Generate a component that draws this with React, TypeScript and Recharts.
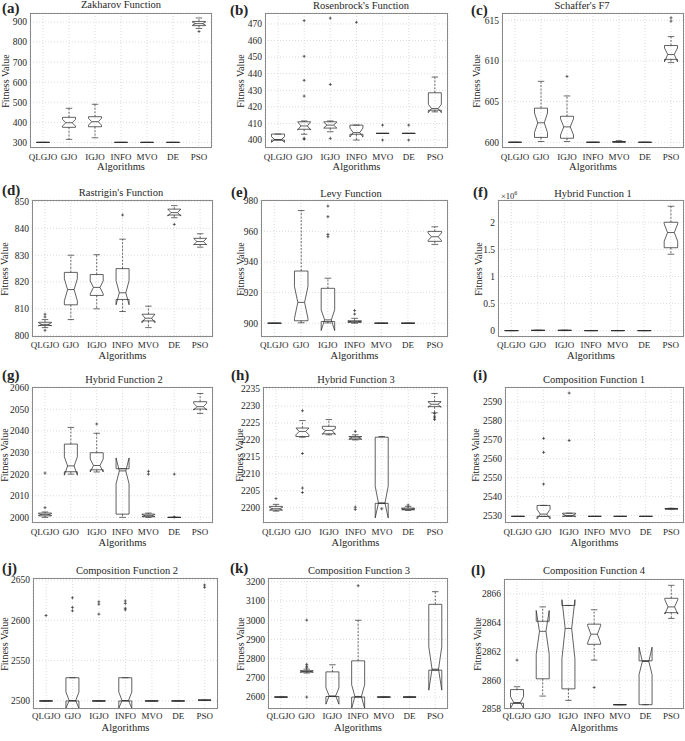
import React from 'react';
import { ComposedChart, Bar, XAxis, YAxis, CartesianGrid } from 'recharts';

const ALGORITHMS = ['QLGJO', 'GJO', 'IGJO', 'INFO', 'MVO', 'DE', 'PSO'];

// one row per algorithm: [whisker low, q1, median, q3, whisker high, notch low, notch high]
const zakharovBoxes = [
  [300, 300, 300, 300, 300, 300, 300],
  [315, 375, 398, 425, 470, 381, 415],
  [323, 378, 403, 428, 490, 386, 420],
  [300, 300, 300, 300, 300, 300, 300],
  [300, 300, 300, 300, 300, 300, 300],
  [300, 300, 300, 300, 300, 300, 300],
  [868, 882, 892, 903, 920, 885, 899],
];
const zakharovOutliers = [[], [], [], [], [], [], [853]];
const zakharovTicks = [300, 400, 500, 600, 700, 800, 900];

const rosenbrockBoxes = [
  [400, 400, 400.3, 403.6, 403.6, 398.6, 402],
  [403.5, 406.5, 408.5, 411, 411.5, 406, 411],
  [405, 407.2, 409, 411, 411.5, 407.3, 410.7],
  [400, 403.5, 404.5, 409, 409, 401.8, 407.2],
  [404, 404, 404, 404, 404, 404, 404],
  [404, 404, 404, 404, 404, 404, 404],
  [417, 418, 419, 428.5, 438, 416.5, 421.5],
];
const rosenbrockOutliers = [[], [400.5, 401, 426.5, 436, 450.5, 472], [401, 433.5, 473.5], [471], [400, 409], [400, 409], []];
const rosenbrockTicks = [400, 410, 420, 430, 440, 450, 460, 470];

const schafferBoxes = [
  [600, 600, 600, 600, 600, 600, 600],
  [600.1, 600.6, 602.4, 604.2, 607.5, 601.2, 603.6],
  [600.1, 600.5, 601.9, 603.2, 605.7, 600.9, 602.9],
  [600, 600, 600, 600, 600, 600, 600],
  [600, 600.02, 600.05, 600.1, 600.2, 600.02, 600.08],
  [600, 600, 600, 600, 600, 600, 600],
  [609.8, 610.2, 610.8, 611.9, 613, 609.9, 611.6],
];
const schafferOutliers = [[], [], [608.1], [], [], [], [614.9, 615.3]];
const schafferTicks = [600, 605, 610, 615];

const rastriginBoxes = [
  [803, 803.8, 804.2, 805, 806, 803.6, 804.8],
  [806, 811.5, 817.2, 823.6, 830, 813, 821.2],
  [810, 815, 818, 822.8, 830.2, 815.6, 820.4],
  [809, 813.5, 816, 825, 836, 811.5, 820.5],
  [803, 805.5, 806.5, 808, 811, 804.8, 808],
  [844, 845, 845.9, 847.2, 848.5, 844.6, 847.2],
  [833, 834, 835.1, 836.3, 838, 833.9, 836.3],
];
const rastriginOutliers = [[802, 807, 808], [], [], [845], [], [841.5], []];
const rastriginTicks = [800, 810, 820, 830, 840, 850];

const levyBoxes = [
  [900, 900, 900, 900, 900, 900, 900],
  [900.3, 901.6, 913.6, 934.1, 973.6, 903.2, 924],
  [900.2, 901.1, 902.2, 922.8, 929.4, 895.2, 908.8],
  [900, 900.6, 901, 901.6, 903.2, 900.7, 901.3],
  [900, 900, 900, 900, 900, 900, 900],
  [900, 900, 900, 900, 900, 900, 900],
  [951.5, 953.5, 956.5, 960, 963, 954, 959],
];
const levyOutliers = [[], [], [956.5, 958, 969.6, 976.5], [906, 908.3], [], [], []];
const levyTicks = [900, 920, 940, 960, 980];

const hybrid1Boxes = [
  [1800, 1900, 1950, 2000, 2100, 1900, 2000],
  [2000, 3000, 6000, 9000, 12000, 4000, 8000],
  [2000, 3000, 6000, 9000, 12000, 4000, 8000],
  [1800, 1900, 1950, 2000, 2100, 1900, 2000],
  [1800, 1900, 1950, 2000, 2100, 1900, 2000],
  [1800, 1900, 1950, 2000, 2100, 1900, 2000],
  [1410000, 1530000, 1810000, 2000000, 2295000, 1650000, 1970000],
];
const hybrid1Outliers = [[], [], [], [], [], [], []];
const hybrid1Ticks = [0, 500000, 1000000, 1500000, 2000000];

const hybrid2Boxes = [
  [2000, 2000.7, 2001.3, 2002, 2002.5, 2000.9, 2001.7],
  [2020, 2021.1, 2023.8, 2033.9, 2041.6, 2019.5, 2028],
  [2021, 2022, 2024, 2029.9, 2038.9, 2021, 2027],
  [2000, 2001.5, 2021.5, 2022.5, 2022.5, 2015.5, 2027.5],
  [2000, 2000.3, 2000.8, 2001.5, 2002, 2000.3, 2001.3],
  [2000, 2000, 2000, 2000, 2000, 2000, 2000],
  [2048.1, 2050.1, 2051.2, 2053.5, 2057.3, 2049.6, 2052.8],
];
const hybrid2Outliers = [[2004.5, 2020.5], [], [2043.2], [], [2020, 2021.3], [2000.2, 2020], []];
const hybrid2Ticks = [2000, 2010, 2020, 2030, 2040, 2050, 2060];

const hybrid3Boxes = [
  [2199, 2199.3, 2199.7, 2200.4, 2201, 2199.3, 2200.1],
  [2220.8, 2221, 2222.5, 2223.5, 2225.7, 2221.5, 2223.5],
  [2221.5, 2221.8, 2222.8, 2224, 2226, 2221.6, 2223.3],
  [2220, 2220.2, 2220.6, 2221, 2221.5, 2220.2, 2221],
  [2201.3, 2201.3, 2201.4, 2220.8, 2221, 2197, 2206.3],
  [2199.2, 2199.4, 2199.6, 2199.9, 2200.4, 2199.4, 2199.8],
  [2228, 2229.8, 2230.5, 2231.3, 2233.7, 2229.6, 2231.2],
];
const hybrid3Outliers = [[2202.7], [2204.5, 2205.8, 2216, 2228.6], [], [2199.5, 2200.2, 2222.5], [2199.7], [2200.8], [2226, 2226.5, 2227, 2227.8]];
const hybrid3Ticks = [2200, 2205, 2210, 2215, 2220, 2225, 2230, 2235];

const comp1Boxes = [
  [2529.5, 2529.5, 2529.5, 2529.5, 2529.5, 2529.5, 2529.5],
  [2529.5, 2529.5, 2530.7, 2535.3, 2535.3, 2528.2, 2533.2],
  [2529.5, 2529.6, 2530, 2531.2, 2531.2, 2529.3, 2530.7],
  [2529.5, 2529.5, 2529.5, 2529.5, 2529.5, 2529.5, 2529.5],
  [2529.5, 2529.5, 2529.5, 2529.5, 2529.5, 2529.5, 2529.5],
  [2529.5, 2529.5, 2529.5, 2529.5, 2529.5, 2529.5, 2529.5],
  [2533.3, 2533.4, 2533.5, 2533.7, 2533.8, 2533.4, 2533.6],
];
const comp1Outliers = [[], [2546.6, 2563.4, 2570.8], [2569.7, 2594.8], [], [], [], []];
const comp1Ticks = [2530, 2540, 2550, 2560, 2570, 2580, 2590];

const comp2Boxes = [
  [2500, 2500, 2500, 2500, 2500, 2500, 2500],
  [2500, 2500, 2500.5, 2528.8, 2528.8, 2491, 2511],
  [2500, 2500, 2500, 2500, 2500, 2500, 2500],
  [2500, 2500, 2500.5, 2528.8, 2528.8, 2491, 2511],
  [2500, 2500, 2500, 2500, 2500, 2500, 2500],
  [2500, 2500, 2500, 2500, 2500, 2500, 2500],
  [2501, 2501, 2501, 2501, 2501, 2501, 2501],
];
const comp2Outliers = [[2606], [2611.8, 2616, 2628], [2607.7, 2620, 2623], [2613, 2615, 2621, 2624], [], [], [2641, 2643.8]];
const comp2Ticks = [2500, 2550, 2600, 2650];

const comp3Boxes = [
  [2600, 2600, 2600, 2600, 2600, 2600, 2600],
  [2725, 2730, 2733, 2737, 2745, 2729, 2737],
  [2603, 2603, 2606, 2731, 2768, 2563, 2648],
  [2600, 2600, 2603, 2788.5, 2999.4, 2541, 2664],
  [2600, 2600, 2600, 2600, 2600, 2600, 2600],
  [2600, 2600, 2600, 2600, 2600, 2600, 2600],
  [2740, 2740, 2745, 3082, 3148, 2636, 2862],
];
const comp3Outliers = [[], [2600, 2752, 2760, 2770, 3000], [], [3179], [], [], []];
const comp3Ticks = [2600, 2700, 2800, 2900, 3000, 3100, 3200];

const comp4Boxes = [
  [2858.4, 2858.4, 2858.45, 2859.35, 2859.55, 2858.05, 2858.85],
  [2858.9, 2860.1, 2863.4, 2864.1, 2865.1, 2861.8, 2864.85],
  [2858.6, 2859.4, 2863.6, 2865.2, 2865.2, 2861.5, 2865.6],
  [2861.4, 2862.5, 2863.2, 2863.9, 2864.9, 2862.6, 2863.8],
  [2858.3, 2858.3, 2858.3, 2858.3, 2858.3, 2858.3, 2858.3],
  [2858.3, 2858.3, 2861.3, 2861.35, 2861.35, 2860.4, 2862.3],
  [2864.3, 2864.7, 2865.1, 2865.7, 2866.6, 2864.6, 2865.6],
];
const comp4Outliers = [[2861.4], [], [], [2859.5], [], [], []];
const comp4Ticks = [2858, 2860, 2862, 2864, 2866];

const FONT = "'Liberation Serif', 'DejaVu Serif', serif";
const INK = '#2e2e2e';
const TEXT = '#262626';

const PANELS = [
  { letter: '(a)', title: 'Zakharov Function', boxes: zakharovBoxes, outliers: zakharovOutliers, ticks: zakharovTicks, domain: [272, 945],
    x0: 0, L: 30, R: 212, T: 13, B: 148, tickY: 157, labelY: 167, titleX: 121, titleY: 5, letterX: 2, letterY: 8, ylabX: 6 },
  { letter: '(b)', title: "Rosenbrock's Function", boxes: rosenbrockBoxes, outliers: rosenbrockOutliers, ticks: rosenbrockTicks, domain: [395.2, 476.6],
    x0: 228, L: 265, R: 448, T: 13, B: 148, tickY: 157, labelY: 167, titleX: 361, titleY: 6, letterX: 230, letterY: 10, ylabX: 241 },
  { letter: '(c)', title: "Schaffer's F7", boxes: schafferBoxes, outliers: schafferOutliers, ticks: schafferTicks, domain: [599.3, 615.9],
    x0: 456, L: 502, R: 684, T: 13, B: 148, tickY: 157, labelY: 167, titleX: 582, titleY: 6, letterX: 471, letterY: 10, ylabX: 477 },
  { letter: '(d)', title: "Rastrigin's Function", boxes: rastriginBoxes, outliers: rastriginOutliers, ticks: rastriginTicks, domain: [799.5, 850.6],
    x0: 0, L: 32, R: 213, T: 200, B: 337, tickY: 345, labelY: 356, titleX: 121, titleY: 193, letterX: 2, letterY: 190, ylabX: 5 },
  { letter: '(e)', title: 'Levy Function', boxes: levyBoxes, outliers: levyOutliers, ticks: levyTicks, domain: [891, 980.5],
    x0: 228, L: 261, R: 448, T: 200, B: 337, tickY: 345, labelY: 356, titleX: 351, titleY: 194, letterX: 231, letterY: 192, ylabX: 241 },
  { letter: '(f)', title: 'Hybrid Function 1', boxes: hybrid1Boxes, outliers: hybrid1Outliers, ticks: hybrid1Ticks, domain: [-116000, 2410000],
    x0: 456, L: 498, R: 684, T: 200, B: 337, tickY: 345, labelY: 356, titleX: 593, titleY: 194, letterX: 473, letterY: 192, ylabX: 479, sci: true },
  { letter: '(g)', title: 'Hybrid Function 2', boxes: hybrid2Boxes, outliers: hybrid2Outliers, ticks: hybrid2Ticks, domain: [1997.4, 2060.3],
    x0: 0, L: 32, R: 213, T: 387, B: 523, tickY: 532, labelY: 543, titleX: 124, titleY: 380, letterX: 2, letterY: 375, ylabX: 5 },
  { letter: '(h)', title: 'Hybrid Function 3', boxes: hybrid3Boxes, outliers: hybrid3Outliers, ticks: hybrid3Ticks, domain: [2195.5, 2235.6],
    x0: 228, L: 263, R: 448, T: 387, B: 523, tickY: 532, labelY: 543, titleX: 356, titleY: 380, letterX: 231, letterY: 375, ylabX: 240 },
  { letter: '(i)', title: 'Composition Function 1', boxes: comp1Boxes, outliers: comp1Outliers, ticks: comp1Ticks, domain: [2526, 2598],
    x0: 456, L: 505, R: 684, T: 387, B: 523, tickY: 532, labelY: 543, titleX: 594, titleY: 380, letterX: 473, letterY: 375, ylabX: 476 },
  { letter: '(j)', title: 'Composition Function 2', boxes: comp2Boxes, outliers: comp2Outliers, ticks: comp2Ticks, domain: [2490, 2652.5],
    x0: 0, L: 33, R: 218, T: 578, B: 709, tickY: 716, labelY: 728, titleX: 127, titleY: 571, letterX: 2, letterY: 568, ylabX: 5 },
  { letter: '(k)', title: 'Composition Function 3', boxes: comp3Boxes, outliers: comp3Outliers, ticks: comp3Ticks, domain: [2538, 3219],
    x0: 228, L: 268, R: 448, T: 578, B: 709, tickY: 716, labelY: 728, titleX: 359, titleY: 571, letterX: 230, letterY: 568, ylabX: 241 },
  { letter: '(l)', title: 'Composition Function 4', boxes: comp4Boxes, outliers: comp4Outliers, ticks: comp4Ticks, domain: [2858, 2867.04],
    x0: 456, L: 504, R: 684, T: 579, B: 709, tickY: 716, labelY: 728, titleX: 594, titleY: 571, letterX: 471, letterY: 570, ylabX: 478 },
];

// notched box drawn MATLAB-style; positions come from the bar's y/height which span the whole axis domain
const BoxShape = (props: any) => {
  const { x, y, width, height, payload } = props;
  const [lo, hi] = payload.range;
  const py = (v: number) => y + (height * (hi - v)) / (hi - lo);
  const cx = x + width / 2;
  const hw = width * 0.25;
  const nw = hw * 0.5;
  const [wLo, q1, med, q3, wHi, nLo, nHi] = payload.box;
  const pts = [
    [cx + hw, py(q1)], [cx + hw, py(nLo)], [cx + nw, py(med)], [cx + hw, py(nHi)], [cx + hw, py(q3)],
    [cx - hw, py(q3)], [cx - hw, py(nHi)], [cx - nw, py(med)], [cx - hw, py(nLo)], [cx - hw, py(q1)],
  ].map(p => p.join(',')).join(' ');
  return (
    <g>
      {wHi > q3 && <line x1={cx} x2={cx} y1={py(q3)} y2={py(wHi)} stroke={INK} strokeWidth={0.7} strokeDasharray="2 1.5" />}
      {wLo < q1 && <line x1={cx} x2={cx} y1={py(q1)} y2={py(wLo)} stroke={INK} strokeWidth={0.7} strokeDasharray="2 1.5" />}
      <line x1={cx - nw} x2={cx + nw} y1={py(wHi)} y2={py(wHi)} stroke={INK} strokeWidth={0.7} />
      <line x1={cx - nw} x2={cx + nw} y1={py(wLo)} y2={py(wLo)} stroke={INK} strokeWidth={0.7} />
      <polygon points={pts} fill="none" stroke={INK} strokeWidth={0.75} />
      <line x1={cx - nw} x2={cx + nw} y1={py(med)} y2={py(med)} stroke={INK} strokeWidth={0.75} />
      {payload.out.map((v: number, i: number) => (
        <g key={i} stroke={INK} strokeWidth={0.7}>
          <line x1={cx - 1.5} x2={cx + 1.5} y1={py(v)} y2={py(v)} />
          <line x1={cx} x2={cx} y1={py(v) - 1.5} y2={py(v) + 1.5} />
        </g>
      ))}
    </g>
  );
};

const Txt = ({ x, y, size, children, bold, rotate, anchor }: any) => (
  <div
    style={{
      position: 'absolute', left: x, top: y, fontFamily: FONT, fontSize: size, color: TEXT,
      fontWeight: bold ? 'bold' : 'normal', whiteSpace: 'nowrap', lineHeight: 1,
      transform: `translate(${anchor === 'start' ? '0' : '-50%'}, -50%)${rotate ? ' rotate(-90deg)' : ''}`,
    }}
  >
    {children}
  </div>
);

const TOP_PAD = 8;

const Panel = ({ p }: any) => {
  const data = ALGORITHMS.map((name, i) => ({ name, range: p.domain, box: p.boxes[i], out: p.outliers[i] }));
  const width = p.R - p.x0 + 2;
  const xAxisH = p.tickY + 8 - p.B;
  const height = p.B - p.T + TOP_PAD + xAxisH;
  const fmt = (v: number) => (p.sci ? String(v / 1000000) : String(v));
  return (
    <>
      <div style={{ position: 'absolute', left: p.x0, top: p.T - TOP_PAD }}>
        <ComposedChart width={width} height={height} data={data} barCategoryGap="0%" margin={{ top: TOP_PAD, right: 2, left: 0, bottom: 0 }}>
          <CartesianGrid stroke="#c4c4c4" strokeDasharray="1 2" strokeWidth={0.6} />
          <XAxis
            dataKey="name" type="category" interval={0} height={xAxisH} axisLine={false} tickLine={false}
            tickSize={0} tickMargin={p.tickY - 3.3 - p.B}
            tick={{ fontSize: 9, fontFamily: FONT, fill: TEXT }}
          />
          <YAxis
            type="number" domain={p.domain} ticks={p.ticks} interval={0} allowDataOverflow width={p.L - p.x0}
            axisLine={false} tickLine={false} tickSize={0} tickMargin={3} tickFormatter={fmt}
            tick={{ fontSize: 9.5, fontFamily: FONT, fill: TEXT }}
          />
          <Bar dataKey="range" shape={BoxShape} isAnimationActive={false} />
        </ComposedChart>
      </div>
      <div
        style={{
          position: 'absolute', left: p.L, top: p.T, width: p.R - p.L, height: p.B - p.T,
          border: '0.8px solid #8a8a8a', boxSizing: 'border-box', pointerEvents: 'none',
        }}
      />
      <Txt x={p.titleX} y={p.titleY} size={10.5}>{p.title}</Txt>
      <Txt x={p.letterX} y={p.letterY} size={15} bold anchor="start">{p.letter}</Txt>
      <Txt x={(p.L + p.R) / 2} y={p.labelY} size={10.5}>Algorithms</Txt>
      <Txt x={p.ylabX} y={(p.T + p.B) / 2} size={10} rotate>Fitness Value</Txt>
      {p.sci && (
        <Txt x={p.L + 3} y={p.T - 5} size={8.5} anchor="start">
          ×10<sup style={{ fontSize: 6 }}>6</sup>
        </Txt>
      )}
    </>
  );
};

export default function App() {
  return (
    <div style={{ position: 'absolute', left: 0, top: 0, width: 685, height: 741, background: '#fff', overflow: 'hidden' }}>
      {PANELS.map(p => (
        <Panel key={p.letter} p={p} />
      ))}
    </div>
  );
}
